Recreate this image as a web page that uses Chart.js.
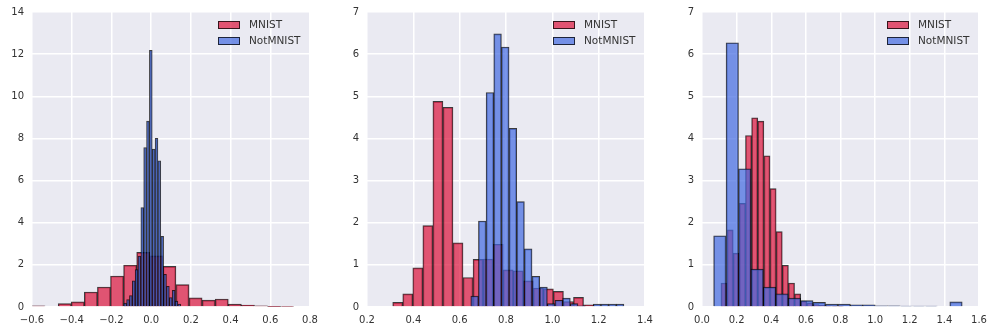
<!DOCTYPE html>
<html>
<head>
<meta charset="utf-8">
<script src="https://cdn.jsdelivr.net/npm/chart.js@4.4.1/dist/chart.umd.min.js"></script>
<style>
  html, body { margin: 0; padding: 0; background: #fff; }
  #wrap { position: relative; width: 993px; height: 335px; }
  .panel { position: absolute; top: 0; height: 335px; }
</style>
</head>
<body>
<div id="wrap">
  <div class="panel" style="left:0;width:320px"><canvas id="c1"></canvas></div>
  <div class="panel" style="left:335px;width:320px"><canvas id="c2"></canvas></div>
  <div class="panel" style="left:670px;width:323px"><canvas id="c3"></canvas></div>
</div>
<script>
const seriesNames = ['MNIST', 'NotMNIST'];

// left panel: first/last bin edge, then bin heights (density)
const p1MnistRange = [-0.600, 0.718];
const p1Mnist = [0.06, 0.00, 0.16, 0.24, 0.71, 0.95, 1.47, 1.99, 2.59, 2.43,
                 1.93, 1.06, 0.43, 0.33, 0.38, 0.14, 0.09, 0.06, 0.01, 0.03];
const p1NotRange = [-0.138, 0.149];
const p1NotMnist = [0.19, 0.35, 0.54, 1.24, 1.77, 2.42, 4.72, 7.57, 8.82, 12.18,
                    7.50, 8.01, 6.94, 3.35, 1.55, 0.98, 0.45, 0.79, 0.28, 0.14];
const p1XTicks = [-0.6, -0.4, -0.2, 0.0, 0.2, 0.4, 0.6, 0.8];
const p1YTicks = [0, 2, 4, 6, 8, 10, 12, 14];

// middle panel
const p2MnistRange = [0.311, 1.178];
const p2Mnist = [0.11, 0.31, 0.93, 1.93, 4.88, 4.74, 1.52, 0.70, 1.13, 1.14,
                 1.49, 0.88, 0.86, 0.62, 0.45, 0.43, 0.37, 0.13, 0.23, 0.05];
const p2NotRange = [0.648, 1.309];
const p2NotMnist = [0.26, 2.04, 5.09, 6.48, 6.17, 4.24, 2.50, 1.38, 0.73, 0.47,
                    0.08, 0.16, 0.21, 0.08, 0.03, 0.00, 0.07, 0.07, 0.07, 0.07];
const p2XTicks = [0.2, 0.4, 0.6, 0.8, 1.0, 1.2, 1.4];

// right panel
const p3MnistRange = [0.1095, 0.818];
const p3Mnist = [0.57, 1.83, 1.28, 2.46, 4.07, 4.49, 4.41, 3.59, 2.81, 1.79,
                 0.99, 0.57, 0.31, 0.14, 0.10, 0.06, 0.04, 0.03, 0.02, 0.02];
const p3NotRange = [0.0672, 1.503];
const p3NotMnist = [1.69, 6.27, 3.28, 0.90, 0.47, 0.31, 0.21, 0.15, 0.11, 0.07,
                    0.07, 0.05, 0.05, 0.03, 0.03, 0.02, 0.02, 0.02, 0.00, 0.12];
const p3XTicks = [0.0, 0.2, 0.4, 0.6, 0.8, 1.0, 1.2, 1.4, 1.6];
const p23YTicks = [0, 1, 2, 3, 4, 5, 6, 7];

const RED = 'rgba(220, 20, 60, 0.7)';
const BLUE = 'rgba(65, 105, 225, 0.7)';
const EDGE = 'rgba(0, 0, 0, 0.75)';
const TEXT = '#333333';

Chart.defaults.font.family = '"DejaVu Sans", sans-serif';
Chart.defaults.font.size = 10;
Chart.defaults.color = TEXT;

// equal-width bins between the range edges, placed at their centres
function binCenters(range, heights) {
  const w = (range[1] - range[0]) / heights.length;
  return heights.map((h, i) => ({ x: range[0] + w * (i + 0.5), y: h }));
}

function fmtX(v) {
  if (Math.abs(v) < 1e-9) v = 0;
  return v.toFixed(1).replace('-', '\u2212');
}

const plotBg = {
  id: 'plotBg',
  beforeDraw(chart) {
    const { ctx, chartArea: a } = chart;
    ctx.save();
    ctx.fillStyle = '#EAEAF2';
    ctx.fillRect(a.left, a.top, a.width, a.height);
    ctx.restore();
  }
};

// legend in the upper right corner of the plot, no frame
const cornerLegend = {
  id: 'cornerLegend',
  afterDatasetsDraw(chart) {
    const { ctx, chartArea: a } = chart;
    ctx.save();
    chart.data.datasets.forEach((ds, i) => {
      const cy = a.top + 13 + i * 16;
      const x = a.right - 92;
      ctx.fillStyle = ds.backgroundColor;
      ctx.fillRect(x, cy - 4, 22, 8);
      ctx.strokeStyle = ds.borderColor;
      ctx.lineWidth = 1;
      ctx.strokeRect(x + 0.5, cy - 3.5, 21, 7);
      ctx.fillStyle = TEXT;
      ctx.font = '10.5px "DejaVu Sans", sans-serif';
      ctx.textBaseline = 'middle';
      ctx.textAlign = 'left';
      ctx.fillText(ds.label, x + 31, cy);
    });
    ctx.restore();
  }
};

function histPanel(canvasId, mnistRange, mnist, notRange, notMnist, xTicks, yTicks, padRight) {
  const barOpts = {
    grouped: false,
    barPercentage: 1,
    categoryPercentage: 1,
    borderColor: EDGE,
    borderWidth: 1
  };
  // each series sits on its own x scale so bar widths follow its own bin width
  const xBase = {
    type: 'linear',
    axis: 'x',
    position: 'bottom',
    min: xTicks[0],
    max: xTicks[xTicks.length - 1],
    offset: false,
    afterBuildTicks: s => { s.ticks = xTicks.map(v => ({ value: v })); }
  };
  return new Chart(document.getElementById(canvasId), {
    type: 'bar',
    data: {
      datasets: [
        Object.assign({ label: seriesNames[0], data: binCenters(mnistRange, mnist),
          xAxisID: 'x', backgroundColor: RED, order: 2 }, barOpts),
        Object.assign({ label: seriesNames[1], data: binCenters(notRange, notMnist),
          xAxisID: 'xNot', backgroundColor: BLUE, order: 1 }, barOpts)
      ]
    },
    options: {
      responsive: true,
      maintainAspectRatio: false,
      animation: false,
      layout: { padding: { top: 12, right: padRight, left: 0, bottom: 0 } },
      plugins: { legend: { display: false }, tooltip: { enabled: false } },
      scales: {
        x: Object.assign({}, xBase, {
          grid: { color: '#FFFFFF', lineWidth: 1.5, drawTicks: false, offset: false },
          border: { display: false },
          ticks: { padding: 7, maxRotation: 0, autoSkip: false, callback: v => fmtX(v) },
          // end labels may hang past the plot edge
          afterFit: s => { s.height = 28; s.paddingLeft = 0; s.paddingRight = 0; }
        }),
        xNot: Object.assign({}, xBase, { display: false, grid: { offset: false } }),
        y: {
          min: yTicks[0],
          max: yTicks[yTicks.length - 1],
          grid: { color: '#FFFFFF', lineWidth: 1.5, drawTicks: false },
          border: { display: false },
          ticks: { padding: 8, callback: v => String(v) },
          afterBuildTicks: s => { s.ticks = yTicks.map(v => ({ value: v })); },
          afterFit: s => { s.width = 32; s.paddingTop = 0; s.paddingBottom = 0; }
        }
      }
    },
    plugins: [plotBg, cornerLegend]
  });
}

histPanel('c1', p1MnistRange, p1Mnist, p1NotRange, p1NotMnist, p1XTicks, p1YTicks, 10);
histPanel('c2', p2MnistRange, p2Mnist, p2NotRange, p2NotMnist, p2XTicks, p23YTicks, 10);
histPanel('c3', p3MnistRange, p3Mnist, p3NotRange, p3NotMnist, p3XTicks, p23YTicks, 14);
</script>
</body>
</html>
